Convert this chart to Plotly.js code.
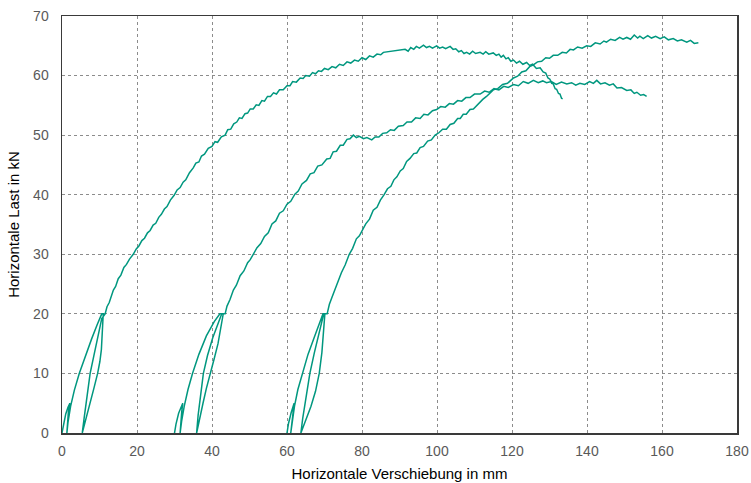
<!DOCTYPE html>
<html>
<head>
<meta charset="utf-8">
<script src="https://cdn.plot.ly/plotly-3.0.1.min.js"></script>
<style>html,body{margin:0;padding:0;background:#fff;}#chart{width:751px;height:483px;}</style>
</head>
<body>
<div id="chart"></div>
<script>
// Test 1
const x1 = [0,0.4,1.0,1.6,2.1,1.7,1.4,1.3,1.6,2.3,3.3,4.6,6.2,7.9,9.4,10.6,11.0,10.8,10.5,10.1,9.5,8.5,7.4,6.3,5.4,5.9,6.6,7.5,8.5,9.6,10.6,11.5,
12.0,12.6,13.0,13.7,14.3,15.0,15.7,16.5,17.2,18.0,19.0,19.8,20.5,21.3,22.0,22.8,23.5,24.3,25.0,25.8,26.5,27.3,28.0,28.9,29.9,30.7,31.5,32.3,33.0,34.0,35.0,35.7,36.5,37.2,38.0,39.0,40.0,40.8,41.5,42.5,43.5,44.2,45.0,45.8,46.6,47.3,48.0,48.8,49.5,50.2,51.0,51.8,52.5,53.3,54.0,54.8,55.6,56.4,57.2,58.0,59.0,60.0,60.8,61.5,62.5,63.5,64.3,65.0,66.0,66.8,67.6,68.4,69.2,70.0,71.0,72.0,73.0,74.0,75.0,76.0,77.0,78.0,79.0,80.0,81.0,82.0,83.0,84.0,85.0,85.7,
91.5,92.3,93.0,93.8,94.5,95.3,96.4,97.2,98.0,98.8,99.9,100.7,101.5,102.3,103.5,104.3,105.0,105.8,106.5,107.2,107.9,108.7,109.5,110.3,111.5,112.3,113.0,113.8,115.0,115.8,116.5,117.1,117.7,118.4,119.0,119.7,120.4,121.2,122.0,122.9,123.9,124.7,125.5,126.5,127.5,128.3,129.0,129.6,130.1,130.6,131.0,131.5,131.9,132.4,132.8,133.2,133.5];
const y1 = [0,1.5,3.2,4.3,5.0,3.5,1.6,0,1.8,4.5,7.2,10.0,13.0,15.8,18.2,20.0,20.0,17.0,14.0,12.0,10.0,7.5,5.0,2.3,0,2.5,5.5,10.0,13.0,16.2,19.2,20.0,
21.2,21.9,22.6,24.0,24.6,25.9,26.5,27.8,28.3,29.2,30.0,30.9,31.4,32.3,32.7,33.6,34.0,34.9,35.2,36.2,36.7,37.6,38.0,39.1,39.9,40.8,41.2,42.1,42.5,43.7,44.5,45.3,45.5,46.5,46.8,47.8,48.1,48.9,48.8,49.7,50.0,50.9,51.0,51.9,52.2,52.9,52.8,53.6,53.7,54.4,54.4,55.1,55.0,55.8,55.7,56.5,56.5,57.1,56.9,57.6,57.6,58.3,58.3,59.0,58.9,59.6,59.5,60.0,59.9,60.5,60.3,60.8,60.7,61.2,61.0,61.5,61.3,61.9,61.7,62.3,62.1,62.6,62.4,63.0,62.7,63.3,63.1,63.6,63.5,63.9,
64.4,64.1,64.7,64.4,64.9,64.6,65.1,64.7,64.9,64.6,65.0,64.6,64.8,64.5,64.9,64.4,64.5,64.0,64.2,63.7,63.9,63.6,64.1,63.7,63.9,63.6,64.0,63.6,63.8,63.4,63.6,63.1,63.4,62.8,63.0,62.4,62.6,62.1,62.4,61.9,62.2,61.7,61.9,61.2,61.3,60.6,60.4,59.6,59.4,58.7,58.6,57.8,57.7,57.0,56.9,56.2,56.1];

// Test 2
const x2 = [30.0,30.4,31.1,31.7,32.2,31.9,31.6,31.5,31.9,32.6,33.6,34.8,36.5,38.5,40.6,42.1,43.0,42.4,41.6,40.6,39.5,38.5,37.6,36.7,35.9,36.3,36.9,37.7,38.8,40.2,41.7,42.6,43.5,
44.0,44.8,45.7,46.5,47.5,48.5,49.5,50.2,51.0,52.0,53.0,54.0,55.0,56.0,57.0,58.0,59.0,60.0,61.0,62.1,63.0,64.0,65.2,66.2,67.2,68.2,69.3,70.6,71.5,72.3,73.2,74.2,75.0,76.0,76.8,77.7,78.5,79.3,80.4,81.3,82.6,83.5,84.5,85.5,86.6,87.6,88.6,89.7,91.0,92.0,93.2,94.3,95.5,96.5,97.6,98.8,99.9,101.0,102.2,103.3,104.4,105.5,106.6,107.7,108.8,110.0,111.5,112.7,113.9,115.2,116.5,117.8,119.0,120.4,121.7,123.0,124.3,125.7,127.0,128.2,129.2,130.5,131.8,133.2,134.6,135.9,137.0,138.1,139.4,140.7,141.7,142.6,143.6,144.8,146.0,147.0,148.0,149.2,150.6,151.7,152.6,153.3,154.3,155.1,155.9];
const y2 = [0,1.5,3.3,4.4,5.0,3.4,1.5,0,2.0,4.5,7.3,10.0,13.2,16.3,18.7,20.0,20.0,17.5,15.0,12.5,10.0,7.5,5.0,2.5,0,3.0,6.5,10.0,13.0,16.0,18.5,20.0,20.0,
21.3,22.4,24.0,24.8,26.4,27.2,28.6,29.1,30.0,31.1,31.8,33.0,33.6,35.1,35.6,36.9,37.3,38.4,38.9,40.1,40.6,41.8,42.4,43.5,43.7,44.8,45.0,46.0,46.1,47.2,47.3,48.3,48.3,49.3,49.4,50.0,49.6,49.8,49.4,49.6,49.2,49.7,49.7,50.3,50.4,50.9,50.8,51.5,51.6,52.2,52.2,52.9,52.8,53.5,53.4,54.1,54.3,54.8,54.7,55.3,55.2,55.8,55.7,56.3,56.3,56.9,56.9,57.4,57.2,57.8,57.6,58.2,58.0,58.5,58.3,59.0,58.7,59.2,58.8,59.1,58.8,59.0,58.5,58.9,58.6,58.8,58.4,58.7,58.5,59.0,58.7,59.2,58.6,58.8,58.4,58.6,57.9,58.0,57.5,57.6,57.0,57.2,56.7,56.8,56.5];

// Test 3
const x3 = [60.0,60.4,61.1,61.5,61.9,61.6,61.2,61.0,61.4,62.0,62.9,64.1,65.6,67.4,68.9,69.6,70.1,69.8,69.3,68.6,67.6,66.4,65.0,63.7,64.2,65.1,66.1,67.3,68.7,69.8,70.7,
71.3,72.0,72.8,73.6,74.5,75.5,76.6,77.5,78.5,79.3,80.0,81.0,82.0,83.0,84.0,84.9,85.9,86.8,87.7,88.5,89.3,90.2,91.0,91.9,92.8,93.8,94.6,95.5,96.4,97.5,98.5,99.5,100.5,101.5,102.5,103.5,104.5,105.5,106.2,107.0,107.8,108.8,109.7,110.6,111.4,112.2,113.2,114.0,115.0,116.2,117.5,118.8,120.4,121.5,122.6,123.7,124.7,125.7,126.8,127.9,129.0,130.0,131.0,132.2,133.4,134.5,135.5,136.4,137.5,138.7,139.9,141.0,142.2,143.5,144.5,145.2,146.3,147.5,148.7,149.6,150.6,151.6,152.6,153.5,154.1,155.0,156.2,157.2,158.3,159.5,160.6,161.7,163.0,164.1,165.2,166.6,167.6,168.6,169.7];
const y3 = [0,1.6,3.4,4.3,5.0,3.3,1.5,0,2.0,4.5,7.3,10.0,13.2,16.3,18.7,20.0,20.0,17.0,13.5,10.0,7.0,4.5,2.0,0,2.5,6.0,10.0,13.5,17.0,20.0,20.0,
21.6,22.8,24.2,25.3,26.9,28.2,30.0,31.0,32.6,33.1,33.9,35.1,35.9,37.4,37.9,39.1,40.0,41.0,41.4,42.5,43.0,44.0,44.4,45.6,46.1,46.9,47.0,47.9,48.1,49.0,49.2,50.0,50.4,51.0,51.0,51.8,52.0,52.8,52.8,53.5,53.5,54.3,54.4,55.0,55.4,56.0,56.5,57.0,57.6,57.8,58.5,58.7,59.6,59.9,60.6,60.8,61.5,61.8,62.3,62.4,63.0,62.9,63.4,63.4,63.9,63.8,64.4,64.3,64.8,64.6,65.0,64.9,65.5,65.3,65.8,65.6,66.1,65.9,66.4,66.1,66.4,66.1,66.8,66.3,66.6,66.2,66.7,66.3,66.6,66.2,66.5,66.0,66.2,65.8,66.0,65.6,65.9,65.4,65.5];

const xTicks = [0,20,40,60,80,100,120,140,160,180];
const yTicks = [0,10,20,30,40,50,60,70];
const xTitle = 'Horizontale Verschiebung in mm';
const yTitle = 'Horizontale Last in kN';

const lineColor = '#00977f';
const mk = (x, y) => ({x: x, y: y, type: 'scatter', mode: 'lines', line: {color: lineColor, width: 1.5}, hoverinfo: 'skip'});

const fam = 'Liberation Sans, Arial, sans-serif';
const axisBase = {
  showline: true, mirror: true, linecolor: '#3a3a3a', linewidth: 1.5,
  showgrid: true, gridcolor: '#8c8c8c', griddash: 'dot', gridwidth: 1,
  zeroline: false, ticks: '',
  tickfont: {family: fam, size: 14, color: '#595959'}
};

const layout = {
  width: 751, height: 483,
  margin: {l: 62, r: 14, t: 16, b: 50},
  paper_bgcolor: '#ffffff', plot_bgcolor: '#ffffff',
  showlegend: false,
  xaxis: Object.assign({}, axisBase, {
    range: [0, 180], tickvals: xTicks, ticktext: xTicks.map(String),
    ticklabelstandoff: 5,
    title: {text: xTitle, standoff: 10, font: {family: fam, size: 15, color: '#000000'}}
  }),
  yaxis: Object.assign({}, axisBase, {
    range: [0, 70], tickvals: yTicks, ticktext: yTicks.map(String),
    ticklabelstandoff: 9,
    title: {text: yTitle, standoff: 10, font: {family: fam, size: 15, color: '#000000'}}
  })
};

Plotly.newPlot('chart', [mk(x1, y1), mk(x2, y2), mk(x3, y3)], layout, {displayModeBar: false, staticPlot: true});
</script>
</body>
</html>
